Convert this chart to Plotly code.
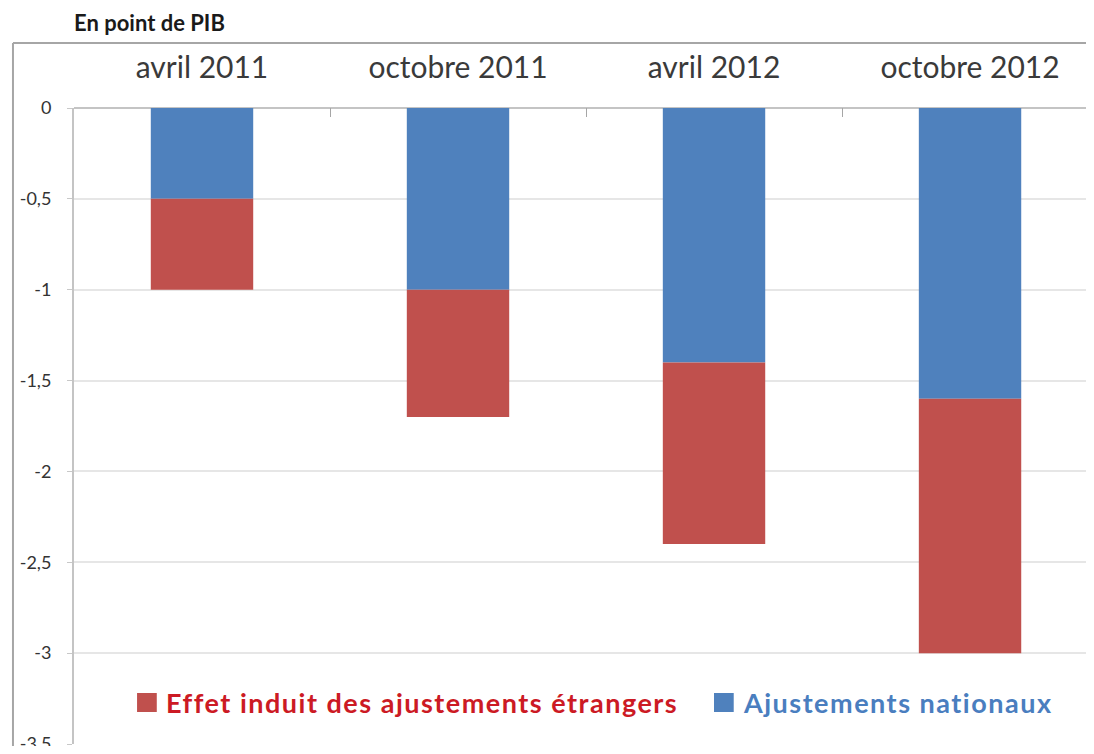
import plotly.graph_objects as go

categories = ["avril 2011", "octobre 2011", "avril 2012", "octobre 2012"]
nationaux = [-0.5, -1.0, -1.4, -1.6]
etrangers = [-0.5, -0.7, -1.0, -1.4]
y_ticks = [0, -0.5, -1, -1.5, -2, -2.5, -3, -3.5]
y_tick_labels = ["0", "-0,5", "-1", "-1,5", "-2", "-2,5", "-3", "-3,5"]
name_nat = "Ajustements nationaux"
name_etr = "Effet induit des ajustements étrangers"

BLUE = "#4F81BD"
RED = "#C0504D"
FONT = "Lato"
FRAME = "#A6A6A6"

fig = go.Figure()
fig.add_trace(go.Bar(x=categories, y=nationaux, name=name_nat,
                     marker=dict(color=BLUE, line=dict(width=0)), width=0.4))
fig.add_trace(go.Bar(x=categories, y=etrangers, name=name_etr,
                     marker=dict(color=RED, line=dict(width=0)), width=0.4))

# outer frame: only top and left edges are in view
shapes = [
    dict(type="line", xref="paper", yref="paper", x0=-0.0603, x1=1.2, y0=1.1022, y1=1.1022,
         line=dict(color=FRAME, width=2), layer="below"),
    dict(type="line", xref="paper", yref="paper", x0=-0.0603, x1=-0.0603, y0=1.1022, y1=-0.2,
         line=dict(color=FRAME, width=2), layer="below"),
]
annotations = [dict(
    text="<b>En point de PIB</b>", xref="paper", yref="paper",
    x=-0.002, y=1.135, xanchor="left", yanchor="middle", showarrow=False,
    font=dict(family=FONT, size=22, color="#1A1A1A"),
)]

# hand-made legend (big squares like the original)
legend_items = [
    (name_etr, RED, "#CC1A24", 0.0623, 0.0889),
    (name_nat, BLUE, "#4A7EBF", 0.6324, 0.6591),
]
for label, box, txt, xs, xt in legend_items:
    shapes.append(dict(type="rect", xref="paper", yref="paper",
                       x0=xs, x1=xs + 0.0195, y0=0.0503, y1=0.0802,
                       fillcolor=box, line=dict(width=0)))
    annotations.append(dict(text=f"<b><span style='letter-spacing:1.5px'>{label}</span></b>",
                            xref="paper", yref="paper",
                            x=xt, y=0.0645, xanchor="left", yanchor="middle",
                            showarrow=False, font=dict(family=FONT, size=27, color=txt)))

fig.update_layout(
    width=1078, height=738,
    margin=dict(l=66, r=0, t=100, b=2),
    barmode="relative",
    paper_bgcolor="white", plot_bgcolor="white",
    font=dict(family=FONT, color="#333333"),
    showlegend=False,
    xaxis=dict(
        side="top", range=[-0.5, 3.453], automargin=False,
        tickfont=dict(size=30, color="#3A3A3A"),
        ticks="inside", tickson="boundaries", ticklen=9, tickcolor="#A6A6A6",
        ticklabelstandoff=23,
        showline=False, showgrid=False,
    ),
    yaxis=dict(
        range=[-3.5, 0], tickvals=y_ticks, ticktext=y_tick_labels, automargin=False,
        tickfont=dict(size=18, color="#333333"),
        ticks="outside", ticklen=5, tickcolor="#C8C8C8",
        showgrid=True, gridcolor="#E6E6E6", gridwidth=2,
        showline=True, linecolor="#C4C4C4", linewidth=2,
        zeroline=True, zerolinecolor="#C4C4C4", zerolinewidth=2,
        ticklabelstandoff=12, ticklabeloverflow="allow",
    ),
    shapes=shapes,
    annotations=annotations,
)

fig.write_html("out.html")
